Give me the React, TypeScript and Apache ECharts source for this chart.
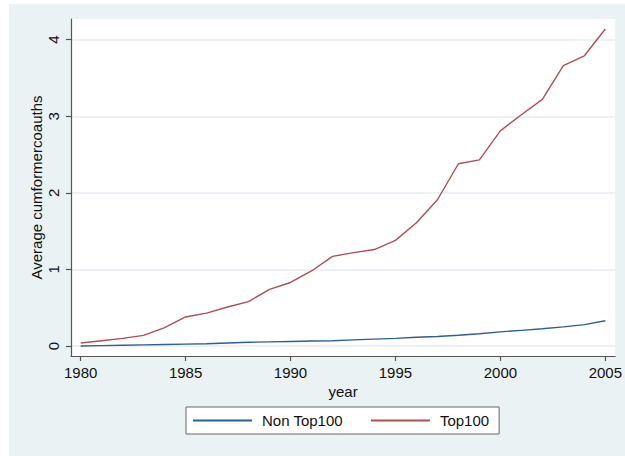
import React, { useEffect, useRef } from "react";
import * as echarts from "echarts";

const years = [1980, 1981, 1982, 1983, 1984, 1985, 1986, 1987, 1988, 1989, 1990, 1991, 1992, 1993, 1994, 1995, 1996, 1997, 1998, 1999, 2000, 2001, 2002, 2003, 2004, 2005];
const nonTop100 = [0.0, 0.005, 0.01, 0.015, 0.02, 0.025, 0.03, 0.04, 0.05, 0.055, 0.06, 0.065, 0.07, 0.08, 0.09, 0.1, 0.115, 0.125, 0.14, 0.16, 0.185, 0.205, 0.225, 0.25, 0.28, 0.33];
const top100 = [0.04, 0.07, 0.1, 0.14, 0.24, 0.38, 0.43, 0.51, 0.58, 0.74, 0.83, 0.98, 1.17, 1.22, 1.26, 1.38, 1.61, 1.91, 2.38, 2.43, 2.81, 3.02, 3.22, 3.66, 3.79, 4.14];
const xTicks = [1980, 1985, 1990, 1995, 2000, 2005];
const yTicks = [0, 1, 2, 3, 4];
const seriesNames = ["Non Top100", "Top100"];

const FONT = "'Liberation Sans', Arial, Helvetica, sans-serif";

export default function App() {
  const ref = useRef<HTMLDivElement>(null);
  useEffect(() => {
    document.body.style.margin = "0";
    const chart = echarts.init(ref.current!, null, { renderer: "svg" });
    chart.setOption({
      animation: false,
      backgroundColor: "#EAF2F3",
      textStyle: { fontFamily: FONT },
      grid: {
        left: 62,
        top: 15,
        right: 8,
        bottom: 100,
        show: true,
        backgroundColor: "#ffffff",
        borderWidth: 0,
      },
      xAxis: {
        type: "value",
        min: 1979.54,
        max: 2005.47,
        name: "year",
        nameLocation: "middle",
        nameGap: 28,
        nameMoveOverlap: false,
        nameTextStyle: { fontSize: 15, color: "#111", fontFamily: FONT },
        axisLine: { show: true, onZero: false, lineStyle: { color: "#555", width: 1.2 } },
        axisTick: { show: true, length: 5, customValues: xTicks, lineStyle: { color: "#555", width: 1.2 } },
        axisLabel: { customValues: xTicks, fontSize: 15, color: "#111", margin: 9, fontFamily: FONT, formatter: (v: number) => String(v) },
        splitLine: { show: false },
      },
      yAxis: {
        type: "value",
        min: -0.13,
        max: 4.27,
        name: "Average cumformercoauths",
        nameLocation: "middle",
        nameRotate: 90,
        nameGap: 27,
        nameMoveOverlap: false,
        nameTextStyle: { fontSize: 15, color: "#111", fontFamily: FONT },
        axisLine: { show: true, onZero: false, lineStyle: { color: "#555", width: 1.2 } },
        axisTick: { show: true, length: 5, customValues: yTicks, lineStyle: { color: "#555", width: 1.2 } },
        axisLabel: { customValues: yTicks, fontSize: 15, color: "#111", rotate: 90, margin: 10, fontFamily: FONT, formatter: (v: number) => String(v) },
        splitLine: { show: true, lineStyle: { color: "#E4EDF0", width: 1.5 } },
      },
      legend: {
        left: 177,
        top: 403,
        width: 316,
        orient: "horizontal",
        backgroundColor: "#ffffff",
        borderColor: "#666",
        borderWidth: 1,
        padding: [6, 10, 6, 7],
        itemGap: 28,
        itemWidth: 59,
        itemHeight: 2,
        icon: "rect",
        textStyle: { fontSize: 15, color: "#111", fontFamily: FONT, padding: [0, 0, 0, 5] },
        data: seriesNames,
      },
      series: [
        {
          name: seriesNames[0],
          type: "line",
          symbol: "none",
          data: years.map((y, i) => [y, nonTop100[i]]),
          lineStyle: { color: "#2F5F8C", width: 1.4 },
          itemStyle: { color: "#2F5F8C" },
        },
        {
          name: seriesNames[1],
          type: "line",
          symbol: "none",
          data: years.map((y, i) => [y, top100[i]]),
          lineStyle: { color: "#AE4E55", width: 1.4 },
          itemStyle: { color: "#AE4E55" },
        },
      ],
    });
    return () => chart.dispose();
  }, []);
  return (
    <div style={{ position: "relative", width: 625, height: 456, background: "#fff" }}>
      <div ref={ref} style={{ position: "absolute", left: 9, top: 4, width: 616, height: 452 }} />
    </div>
  );
}
